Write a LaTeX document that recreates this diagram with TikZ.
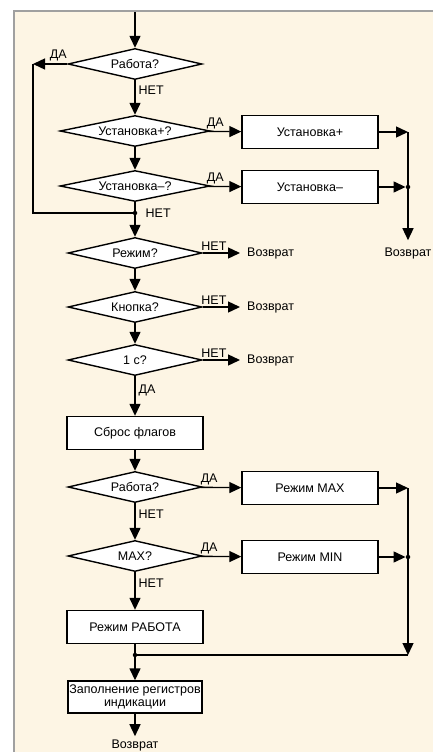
\documentclass[tikz,border=0pt]{standalone}
\usepackage{fontspec}
\setmainfont{Liberation Sans}
\usetikzlibrary{shapes.geometric,arrows.meta}
\definecolor{paper}{RGB}{253,245,228}
\definecolor{framegray}{RGB}{160,160,160}
\tikzset{
  dec/.style={diamond,draw,fill=white,line width=1.4pt,inner sep=0pt,aspect=4.3,minimum width=134pt,minimum height=31pt},
  blk/.style={rectangle,draw,fill=white,line width=1.4pt,inner sep=1pt,minimum width=136pt,minimum height=33pt},
  ret/.style={inner sep=7pt},
  dot/.style={fill,circle,inner sep=0pt,minimum size=4.5pt},
  wire/.style={line width=1.4pt},
  flow/.style={line width=1.4pt,-{Triangle[length=12pt,width=11pt]}},
  yes/.style={above=1pt,inner sep=1pt},
  no/.style={right=2pt,inner sep=1pt},
}
\begin{document}
\begin{tikzpicture}[x=1pt,y=-1pt,font=\fontsize{12.5}{13}\selectfont]
\useasboundingbox (0,0) rectangle (433,752);
\fill[paper] (14,11.5) rectangle (433,752);
\draw[framegray,line width=2pt] (14,752) -- (14,11.5) -- (433,11.5);
% main column
\node[dec] (q1) at (135,64) {Работа?};
\node[dec,minimum width=150pt] (q2) at (135,131) {Установка+?};
\node[dec,minimum width=150pt] (q3) at (135,186) {Установка--?};
\node[dec] (q4) at (135,253) {Режим?};
\node[dec] (q5) at (135,307) {Кнопка?};
\node[dec] (q6) at (135,360) {1 с?};
\node[blk] (b1) at (135,433) {Сброс флагов};
\node[dec] (q7) at (135,487) {Работа?};
\node[dec] (q8) at (135,556) {MAX?};
\node[blk] (b2) at (135,627) {Режим РАБОТА};
\node[blk,align=center,minimum width=134pt,minimum height=32pt,font=\fontsize{12.5}{13}\selectfont] (b3) at (135,697) {Заполнение регистров\\индикации};
\node[ret,inner sep=3pt] (r5) at (135,745) {Возврат};
% right column
\node[blk] (s1) at (310,132) {Установка+};
\node[blk] (s2) at (310,187) {Установка--};
\node[blk] (s3) at (310,488) {Режим MAX};
\node[blk] (s4) at (310,557) {Режим MIN};
\node[ret,anchor=west] (r1) at (240,253) {Возврат};
\node[ret,anchor=west] (r2) at (240,307) {Возврат};
\node[ret,anchor=west] (r3) at (240,360) {Возврат};
\node[ret] (r4) at (408,253) {Возврат};
% junctions
\coordinate (top) at (135,12);
\coordinate (lp) at (33,64);
\coordinate (c1) at (408,132);
\coordinate (c5) at (408,488);
\coordinate (c6) at (408,655);
\node[dot] (j0) at (408,187) {};
\node[dot] (j1) at (135,213) {};
\node[dot] (j2) at (408,557) {};
\node[dot] (j3) at (135,655) {};
% connectors
\draw[flow] (top) -- (q1);
\draw[flow] (q1) -- node[yes,pos=0.26]{ДА} (lp);
\draw[wire] (lp) |- (j1);
\draw[flow] (q1) -- node[no,pos=0.3]{НЕТ} (q2);
\draw[flow] (q2) -- node[yes,pos=0.2]{ДА} (s1);
\draw[flow] (q2) -- (q3);
\draw[flow] (q3) -- node[yes,pos=0.2]{ДА} (s2);
\draw[wire] (q3) -- (j1) node[no,right=7pt]{НЕТ};
\draw[flow] (j1) -- (q4);
\draw[flow] (s1) -- (c1);
\draw[flow] (s2) -- (j0);
\draw[flow] (c1) -- (r4);
\draw[flow] (q4) -- node[yes,pos=0.3]{НЕТ} (r1);
\draw[flow] (q4) -- (q5);
\draw[flow] (q5) -- node[yes,pos=0.3]{НЕТ} (r2);
\draw[flow] (q5) -- (q6);
\draw[flow] (q6) -- node[yes,pos=0.3]{НЕТ} (r3);
\draw[flow] (q6) -- node[no,pos=0.35]{ДА} (b1);
\draw[flow] (b1) -- (q7);
\draw[flow] (q7) -- node[yes,pos=0.2]{ДА} (s3);
\draw[flow] (q7) -- node[no,pos=0.3]{НЕТ} (q8);
\draw[flow] (q8) -- node[yes,pos=0.2]{ДА} (s4);
\draw[flow] (q8) -- node[no,pos=0.3]{НЕТ} (b2);
\draw[flow] (s3) -- (c5);
\draw[flow] (s4) -- (j2);
\draw[flow] (c5) -- (c6);
\draw[wire] (c6) -- (j3);
\draw[wire] (b2) -- (j3);
\draw[flow] (j3) -- (b3);
\draw[flow] (b3) -- (r5);
\end{tikzpicture}
\end{document}
